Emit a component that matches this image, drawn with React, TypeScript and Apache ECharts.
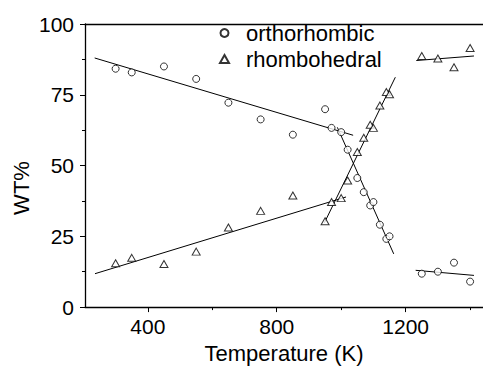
import React, { useEffect, useRef } from "react";
import * as echarts from "echarts";

const orthoT = [300, 350, 450, 550, 650, 750, 850, 950, 970, 1000, 1020, 1050, 1070, 1090, 1100, 1120, 1140, 1150, 1250, 1300, 1350, 1400];
const orthoW = [84.2, 82.9, 85, 80.6, 72.2, 66.3, 60.9, 69.9, 63.3, 61.8, 55.6, 45.6, 40.6, 35.9, 37.1, 29.1, 24.1, 25.0, 11.8, 12.5, 15.7, 9.0];
const rhomboT = [300, 350, 450, 550, 650, 750, 850, 950, 970, 1000, 1020, 1050, 1070, 1090, 1100, 1120, 1140, 1150, 1250, 1300, 1350, 1400];
const rhomboW = [15.5, 17.4, 15.2, 19.6, 28.1, 34.0, 39.4, 30.3, 37.1, 38.5, 44.7, 54.8, 59.8, 64.4, 63.3, 71.2, 76.0, 75.2, 88.7, 87.8, 84.7, 91.5];

const fitLines: number[][][] = [
  [[235, 88.0], [1037, 60.7]],
  [[988, 63.5], [1163, 18.8]],
  [[1231, 13.0], [1412, 11.2]],
  [[236, 11.8], [1015, 38.9]],
  [[948, 29.8], [1168, 81.2]],
  [[1233, 87.1], [1412, 88.7]],
];

const xLabelTicks = [400, 800, 1200];
const xMinorTicks = [600, 1000, 1400];
const yTicks = [0, 25, 50, 75, 100];

const FONT = "'Liberation Sans', Arial, Helvetica, sans-serif";

export default function App() {
  const ref = useRef<HTMLDivElement>(null);
  useEffect(() => {
    if (!ref.current) return;
    const chart = echarts.init(ref.current, null, { renderer: "svg" });
    const lineSeries = fitLines.map((d) => ({
      type: "line",
      data: d,
      symbol: "none",
      lineStyle: { color: "#000", width: 1 },
      silent: true,
      z: 1,
    }));
    chart.setOption({
      animation: false,
      textStyle: { fontFamily: FONT },
      grid: { left: 85, right: 0, top: 24, bottom: 56 },
      legend: {
        data: ["orthorhombic", "rhombohedral"],
        orient: "vertical",
        left: 219,
        top: 22,
        padding: 0,
        itemGap: 4,
        itemWidth: 9,
        itemHeight: 8,
        textStyle: { fontSize: 22, color: "#000", fontFamily: FONT, padding: [0, 0, 0, 12] },
      },
      xAxis: [
        {
          type: "value",
          min: 205,
          max: 1440,
          position: "bottom",
          splitLine: { show: false },
          axisLine: { lineStyle: { color: "#000", width: 1.3 } },
          axisTick: { customValues: xLabelTicks, length: 5, lineStyle: { color: "#000" } },
          axisLabel: {
            customValues: xLabelTicks,
            fontSize: 21,
            color: "#000",
            margin: 9,
            fontFamily: FONT,
            formatter: (v: number) => String(v),
          },
          name: "Temperature (K)",
          nameLocation: "middle",
          nameGap: 34,
          nameTextStyle: { fontSize: 22, color: "#000", fontFamily: FONT },
        },
        {
          type: "value",
          min: 205,
          max: 1440,
          position: "bottom",
          splitLine: { show: false },
          axisLine: { show: false },
          axisTick: { customValues: xMinorTicks, length: 3, lineStyle: { color: "#000" } },
          axisLabel: { show: false },
        },
        {
          type: "value",
          min: 205,
          max: 1440,
          position: "top",
          splitLine: { show: false },
          axisLine: { lineStyle: { color: "#000", width: 1.3 } },
          axisTick: { show: false },
          axisLabel: { show: false },
        },
      ],
      yAxis: {
        type: "value",
        min: 0,
        max: 100,
        interval: 25,
        splitLine: { show: false },
        axisLine: { show: true, lineStyle: { color: "#000", width: 1.3 } },
        axisTick: { show: true, length: 5, lineStyle: { color: "#000" } },
        minorTick: { show: true, splitNumber: 2, length: 3, lineStyle: { color: "#000" } },
        axisLabel: {
          fontSize: 21,
          color: "#000",
          margin: 11,
          fontFamily: FONT,
          customValues: yTicks,
          formatter: (v: number) => String(v),
        },
      },
      graphic: [
        {
          type: "text",
          x: 21,
          y: 188,
          rotation: Math.PI / 2,
          style: {
            text: "WT%",
            fontSize: 22,
            fontFamily: FONT,
            fill: "#000",
            textAlign: "center",
            textVerticalAlign: "middle",
          },
        },
      ],
      series: [
        {
          name: "orthorhombic",
          type: "scatter",
          data: orthoT.map((t, i) => [t, orthoW[i]]),
          symbol: "circle",
          symbolSize: 7,
          itemStyle: { color: "#fff", borderColor: "#000", borderWidth: 1 },
          z: 3,
        },
        {
          name: "rhombohedral",
          type: "scatter",
          data: rhomboT.map((t, i) => [t, rhomboW[i]]),
          symbol: "triangle",
          symbolSize: [8, 7],
          itemStyle: { color: "#fff", borderColor: "#000", borderWidth: 1 },
          z: 3,
        },
        ...lineSeries,
      ],
    });
    return () => chart.dispose();
  }, []);
  return <div ref={ref} style={{ width: 483, height: 369, position: "absolute", left: 0, top: 0 }} />;
}
